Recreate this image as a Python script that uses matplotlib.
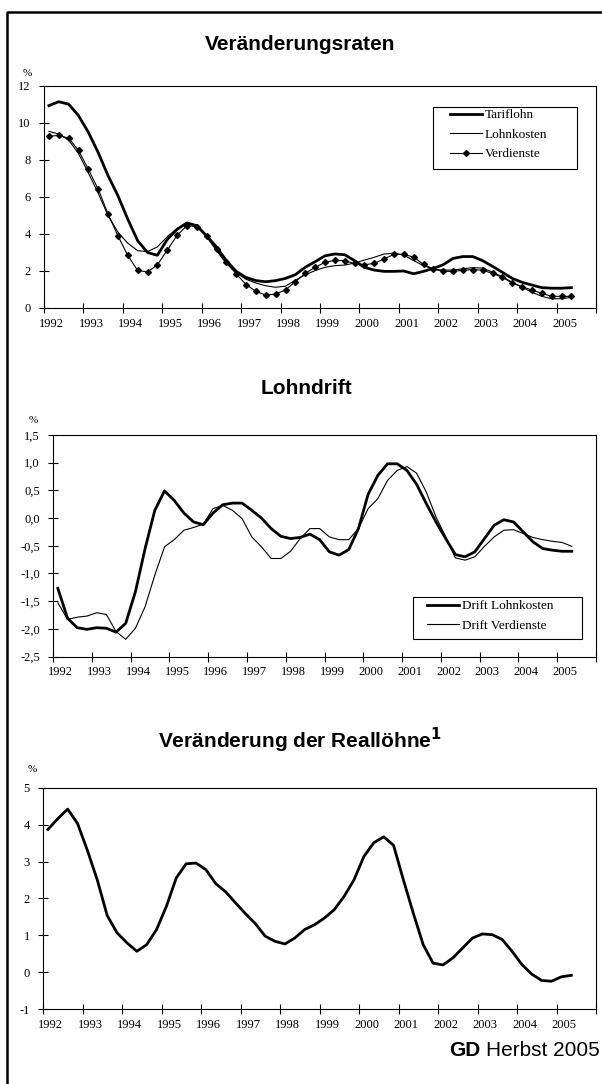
import numpy as np
import matplotlib.pyplot as plt
from matplotlib.lines import Line2D
from matplotlib.patches import Rectangle

# quarterly data 1992 Q1 .. 2005 Q2
years = list(range(1992, 2007))
year_labels = [str(y) for y in range(1992, 2006)]
quarters = 1992 + (np.arange(54) + 0.5) / 4

tariflohn = [10.94, 11.15, 11.02, 10.4, 9.5, 8.4, 7.15, 6.07, 4.8, 3.64,
             3.0, 2.85, 3.7, 4.25, 4.6, 4.45, 3.9, 3.3, 2.56, 1.98,
             1.65, 1.48, 1.42, 1.48, 1.6, 1.8, 2.2, 2.5, 2.82, 2.92,
             2.88, 2.56, 2.2, 2.05, 1.98, 1.98, 2.0, 1.85, 1.98, 2.14,
             2.34, 2.68, 2.78, 2.78, 2.56, 2.25, 1.93, 1.6, 1.39, 1.24,
             1.1, 1.07, 1.07, 1.1]
lohnkosten = [9.55, 9.4, 9.08, 8.35, 7.3, 6.2, 5.0, 4.1, 3.5, 3.1,
              3.05, 3.3, 3.85, 4.3, 4.58, 4.42, 3.85, 3.1, 2.4, 1.9,
              1.55, 1.35, 1.2, 1.12, 1.18, 1.5, 1.8, 2.02, 2.2, 2.29,
              2.32, 2.43, 2.59, 2.74, 2.92, 2.96, 2.86, 2.56, 2.29, 2.1,
              2.05, 2.05, 2.12, 2.18, 2.16, 1.93, 1.69, 1.39, 1.12, 0.85,
              0.63, 0.5, 0.5, 0.58]
verdienste = [9.28, 9.33, 9.18, 8.52, 7.5, 6.42, 5.08, 3.9, 2.84, 2.03,
              1.95, 2.33, 3.12, 3.93, 4.45, 4.4, 3.9, 3.18, 2.48, 1.84,
              1.27, 0.9, 0.7, 0.75, 0.98, 1.42, 1.87, 2.2, 2.47, 2.58,
              2.55, 2.41, 2.34, 2.41, 2.65, 2.9, 2.9, 2.75, 2.36, 2.1,
              1.98, 1.98, 2.04, 2.08, 2.04, 1.87, 1.66, 1.35, 1.15, 0.97,
              0.79, 0.63, 0.63, 0.63]

drift_lohnkosten = [-1.27, -1.81, -1.98, -2.01, -1.98, -1.99, -2.06, -1.9, -1.33, -0.55,
                    0.14, 0.49, 0.32, 0.09, -0.07, -0.12, 0.09, 0.24, 0.27, 0.27,
                    0.14, 0.0, -0.19, -0.33, -0.37, -0.35, -0.29, -0.39, -0.61, -0.67,
                    -0.57, -0.19, 0.43, 0.77, 0.98, 0.98, 0.86, 0.61, 0.26, -0.07,
                    -0.37, -0.66, -0.70, -0.61, -0.37, -0.13, -0.03, -0.07, -0.25, -0.43,
                    -0.55, -0.58, -0.6, -0.6]
drift_verdienste = [-1.53, -1.83, -1.79, -1.77, -1.71, -1.74, -2.05, -2.19, -1.99, -1.6,
                    -1.03, -0.52, -0.39, -0.22, -0.17, -0.11, 0.17, 0.23, 0.14, -0.01,
                    -0.34, -0.52, -0.73, -0.73, -0.6, -0.37, -0.19, -0.19, -0.34, -0.39,
                    -0.39, -0.19, 0.17, 0.35, 0.68, 0.86, 0.93, 0.81, 0.47, 0.02,
                    -0.34, -0.72, -0.76, -0.70, -0.51, -0.34, -0.22, -0.21, -0.28, -0.35,
                    -0.39, -0.42, -0.44, -0.51]

realloehne = [3.87, 4.16, 4.42, 4.03, 3.3, 2.5, 1.54, 1.07, 0.8, 0.57,
              0.75, 1.16, 1.79, 2.56, 2.94, 2.96, 2.78, 2.4, 2.18, 1.88,
              1.59, 1.32, 0.98, 0.84, 0.77, 0.93, 1.16, 1.29, 1.47, 1.7,
              2.06, 2.51, 3.14, 3.51, 3.67, 3.44, 2.5, 1.6, 0.75, 0.25,
              0.2, 0.39, 0.66, 0.93, 1.04, 1.02, 0.89, 0.57, 0.21, -0.05,
              -0.22, -0.24, -0.12, -0.08]

y1_ticks = [0, 2, 4, 6, 8, 10, 12]
y2_ticks = [-2.5, -2.0, -1.5, -1.0, -0.5, 0.0, 0.5, 1.0, 1.5]
y2_labels = ["-2,5", "-2,0", "-1,5", "-1,0", "-0,5", "0,0", "0,5", "1,0", "1,5"]
y3_ticks = [-1, 0, 1, 2, 3, 4, 5]

W, H = 602, 1084
serif = "Liberation Serif"
sans = "Liberation Sans"


def fx(px):
    return px / W


def fy(py):
    return 1 - py / H


fig = plt.figure(figsize=(W / 100, H / 100), dpi=100)
fig.patch.set_facecolor("white")

# outer frame (left and top visible)
fig.add_artist(Line2D([fx(7), fx(7), fx(602)], [fy(1084), fy(12), fy(12)],
                      transform=fig.transFigure, color="black", lw=1.8))


def make_axes(left, top, bottom, ylim, yticks, ylabels):
    ax = fig.add_axes([fx(left), fy(bottom), fx(596) - fx(left), (bottom - top) / H])
    ax.set_xlim(1992, 2006)
    ax.set_ylim(*ylim)
    ax.set_xticks(years)
    ax.set_xticklabels([])
    ax.set_xticks(np.array(years[:-1]) + 0.2, minor=True)
    ax.set_xticklabels(year_labels, minor=True, fontfamily=serif, fontsize=9)
    ax.set_yticks(yticks)
    ax.set_yticklabels(ylabels, fontfamily=serif, fontsize=9)
    ax.tick_params(which="major", direction="inout", length=7, width=0.8, pad=6)
    ax.tick_params(axis="x", which="minor", length=0, pad=7)
    for s in ax.spines.values():
        s.set_linewidth(0.8)
    return ax


# Panel 1
ax1 = make_axes(44, 86, 308, (0, 12), y1_ticks, [str(v) for v in y1_ticks])
ax1.plot(quarters, tariflohn, color="black", lw=2.0, label="Tariflohn")
ax1.plot(quarters, lohnkosten, color="black", lw=0.8, label="Lohnkosten")
ax1.plot(quarters, verdienste, color="black", lw=0.8, marker="D", markersize=3.0,
         label="Verdienste")
fig.text(fx(300), fy(45), "Veränderungsraten", ha="center", va="center",
         fontfamily=sans, fontweight="bold", fontsize=15)
fig.text(fx(27), fy(73), "%", ha="center", va="center", fontfamily=serif, fontsize=8)
fig.add_artist(Rectangle((fx(433), fy(169)), fx(577) - fx(433), (169 - 107) / H,
                         transform=fig.transFigure, fill=False, ec="black", lw=0.8))
ax1.legend(loc="upper left", bbox_to_anchor=(fx(450), fy(109)), bbox_transform=fig.transFigure,
           frameon=False, borderpad=0, borderaxespad=0, handlelength=2.4, handletextpad=0.25,
           labelspacing=0.55, numpoints=1, prop={"family": serif, "size": 9.5})

# Panel 2
ax2 = make_axes(53, 435, 656.5, (-2.5, 1.5), y2_ticks, y2_labels)
ax2.plot(quarters, drift_lohnkosten, color="black", lw=2.0, label="Drift Lohnkosten")
ax2.plot(quarters, drift_verdienste, color="black", lw=0.8, label="Drift Verdienste")
fig.text(fx(306), fy(389), "Lohndrift", ha="center", va="center",
         fontfamily=sans, fontweight="bold", fontsize=15)
fig.text(fx(33), fy(420), "%", ha="center", va="center", fontfamily=serif, fontsize=8)
fig.add_artist(Rectangle((fx(413), fy(639)), fx(582) - fx(413), (639 - 597) / H,
                         transform=fig.transFigure, fill=False, ec="black", lw=0.8))
ax2.legend(loc="upper left", bbox_to_anchor=(fx(427), fy(600)), bbox_transform=fig.transFigure,
           frameon=False, borderpad=0, borderaxespad=0, handlelength=2.4, handletextpad=0.25,
           labelspacing=0.55, prop={"family": serif, "size": 9.5})

# Panel 3
ax3 = make_axes(43, 787.7, 1009.3, (-1, 5), y3_ticks, [str(v) for v in y3_ticks])
ax3.plot(quarters, realloehne, color="black", lw=2.0)
fig.text(fx(300), fy(740), "Veränderung der Reallöhne$^{\\mathbf{1}}$", ha="center", va="center",
         fontfamily=sans, fontweight="bold", fontsize=15)
fig.text(fx(32), fy(770), "%", ha="center", va="center", fontfamily=serif, fontsize=8)

# source
fig.text(fx(600), fy(1051), "Herbst 2005", ha="right", va="center",
         fontfamily=sans, fontsize=15)
fig.text(fx(480), fy(1051), "GD", ha="right", va="center",
         fontfamily=sans, fontweight="bold", fontsize=15)

fig.savefig("out.png", dpi=100)
